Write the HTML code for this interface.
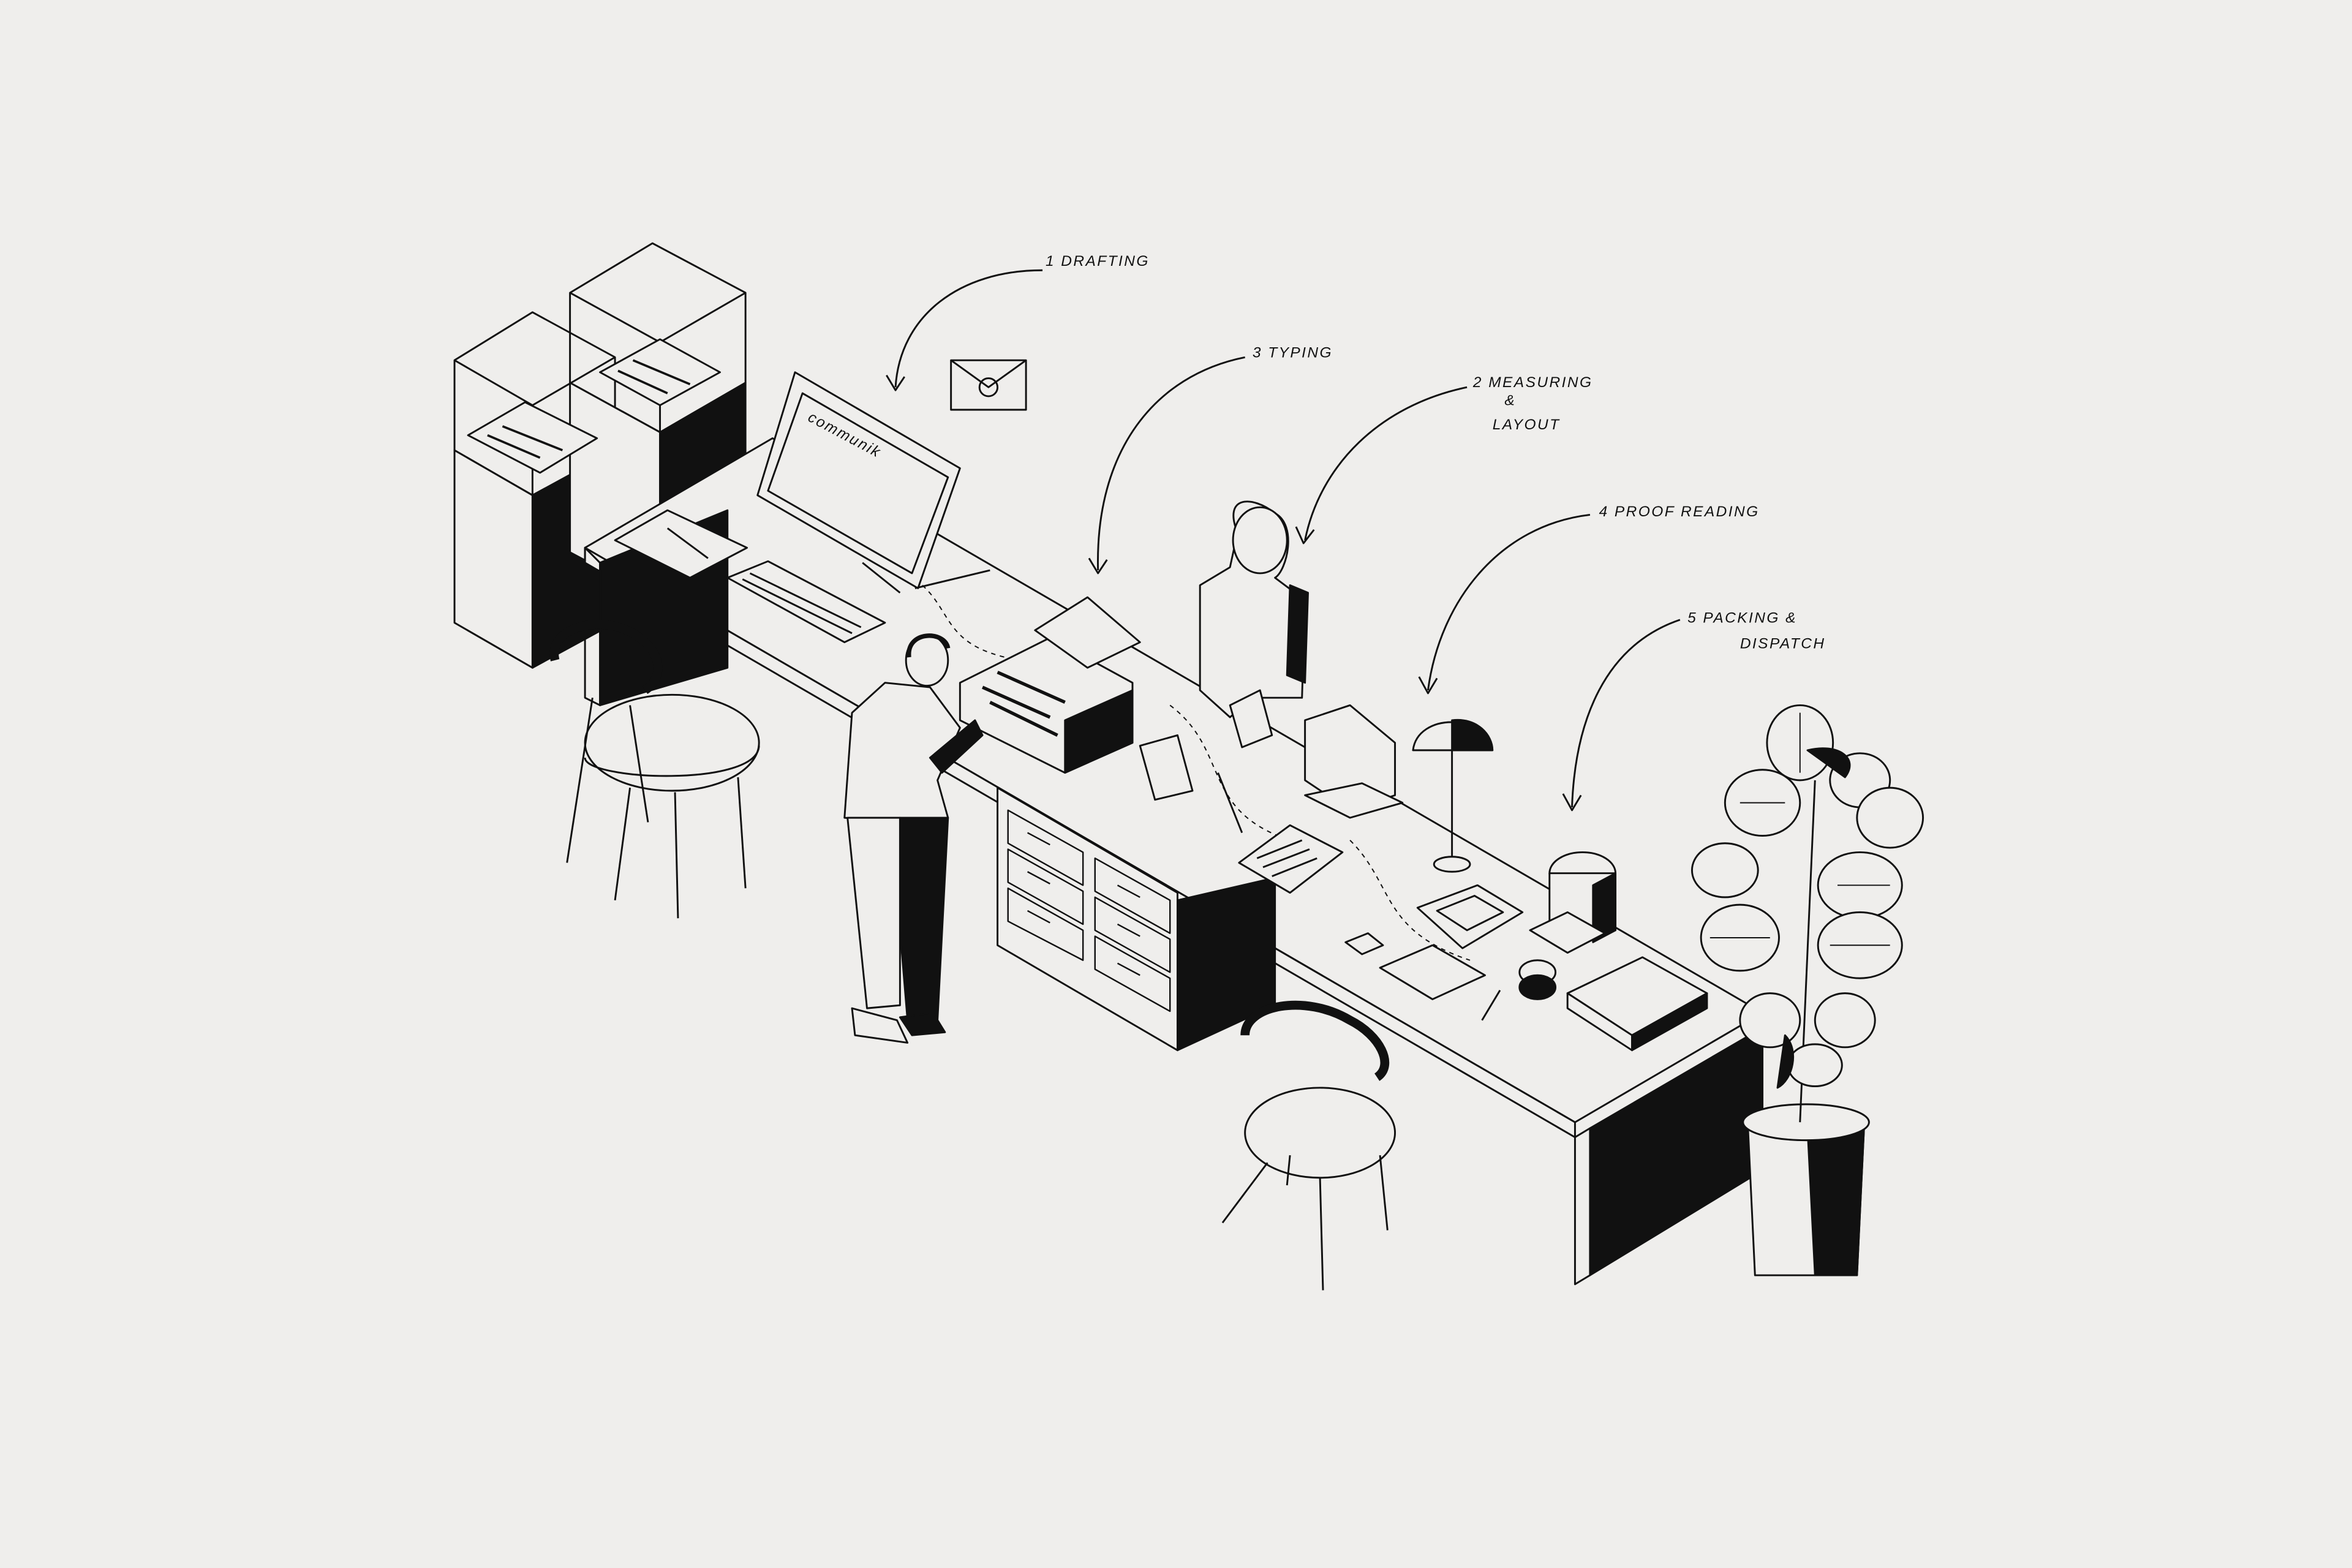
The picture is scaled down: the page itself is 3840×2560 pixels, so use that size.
<!DOCTYPE html>
<html><head><meta charset="utf-8"><style>
html,body{margin:0;padding:0;background:#efeeec;}
svg{display:block;}
text{font-family:"Liberation Sans",sans-serif;font-style:italic;font-size:10px;fill:#111;letter-spacing:1px;}
</style></head><body>
<svg width="3840" height="2560" viewBox="0 0 1568 1045" xmlns="http://www.w3.org/2000/svg">
<rect width="1568" height="1045" fill="#efeeec"/>
<g fill="none" stroke="#111" stroke-width="1.2" stroke-linejoin="round">
<!-- pedestal 1 -->
<polygon points="303,240 355,208 410,238 410,300 355,330 303,300"/>
<line x1="355" y1="270" x2="355" y2="330"/><line x1="303" y1="240" x2="355" y2="270"/><line x1="355" y1="270" x2="410" y2="238"/>
<polygon points="303,300 355,330 355,445 303,415" fill="#efeeec"/>
<polygon points="355,330 410,300 410,415 355,445" fill="#111"/>
<!-- pedestal 2 -->
<polygon points="380,195 435,162 497,195 497,255 440,288 380,255"/>
<line x1="380" y1="195" x2="440" y2="228"/><line x1="440" y1="228" x2="497" y2="195"/><line x1="440" y1="228" x2="440" y2="288"/>
<polygon points="380,255 440,288 440,400 380,368" fill="#efeeec"/>
<polygon points="440,288 497,255 497,345 440,378" fill="#111"/>
<!-- mini typewriters -->
<polygon points="312,290 350,268 398,292 360,315" fill="#efeeec"/>
<polygon points="400,248 440,226 480,248 440,270" fill="#efeeec"/>
<g stroke-width="1.5"><line x1="325" y1="290" x2="360" y2="305"/><line x1="335" y1="284" x2="375" y2="300"/><line x1="412" y1="247" x2="445" y2="262"/><line x1="422" y1="240" x2="460" y2="256"/></g>
<!-- desk -->
<polygon points="390,365 515,292 1175,675 1050,748" fill="#efeeec"/>
<polygon points="390,365 1050,748 1050,758 390,375" fill="#efeeec"/>
<polygon points="390,365 390,465 400,470 400,375"/>
<polygon points="400,375 485,340 485,445 400,470" fill="#111"/>
<polygon points="1050,758 1060,752 1060,850 1050,856" fill="#efeeec"/>
<polygon points="1060,752 1175,685 1175,780 1060,850" fill="#111"/>
<g stroke-dasharray="3,3" stroke-width="0.8">
<path d="M600,380 C640,400 620,430 680,440"/><path d="M780,470 C820,500 800,540 860,560"/><path d="M900,560 C930,590 920,620 980,640"/><path d="M520,320 C560,330 580,350 600,360"/>
</g>
<!-- under desk dark -->
<polygon points="785,600 850,585 850,670 785,700" fill="#111"/>
<!-- drawers -->
<polygon points="665,525 785,595 785,700 665,630" fill="#efeeec"/>
<g stroke-width="1">
<polygon points="672,540 722,568 722,590 672,562"/><polygon points="672,566 722,594 722,616 672,588"/><polygon points="672,592 722,620 722,640 672,614"/>
<polygon points="730,572 780,600 780,622 730,594"/><polygon points="730,598 780,626 780,648 730,620"/><polygon points="730,624 780,652 780,674 730,646"/>
<line x1="685" y1="555" x2="700" y2="563"/><line x1="685" y1="581" x2="700" y2="589"/><line x1="685" y1="607" x2="700" y2="615"/>
<line x1="745" y1="590" x2="760" y2="598"/><line x1="745" y1="616" x2="760" y2="624"/><line x1="745" y1="642" x2="760" y2="650"/>
</g>
<!-- monitor -->
<polygon points="530,248 640,312 612,392 505,330" fill="#efeeec"/>
<polygon points="535,262 632,318 608,382 512,327"/>
<line x1="610" y1="392" x2="660" y2="380"/><line x1="575" y1="375" x2="600" y2="395"/>
<!-- keyboard -->
<polygon points="485,385 512,374 590,415 563,428" fill="#efeeec"/>
<line x1="495" y1="386" x2="568" y2="422"/><line x1="500" y1="382" x2="574" y2="418"/>
<!-- book -->
<polygon points="410,360 445,340 498,365 460,385" fill="#efeeec"/>
<line x1="445" y1="352" x2="472" y2="372"/>
<!-- envelope -->
<rect x="634" y="240" width="50" height="33" fill="#efeeec"/>
<polyline points="634,240 659,258 684,240"/>
<circle cx="659" cy="258" r="6"/>
<!-- typewriter -->
<polygon points="640,455 700,425 755,455 755,495 710,515 640,480" fill="#efeeec"/>
<polygon points="710,515 755,495 755,460 710,480" fill="#111"/>
<polygon points="690,420 725,398 760,428 725,445" fill="#efeeec"/>
<g stroke-width="2.2"><line x1="655" y1="458" x2="700" y2="478"/><line x1="660" y1="468" x2="705" y2="490"/><line x1="665" y1="448" x2="710" y2="468"/></g>
<!-- lady -->
<path d="M825,355 C815,330 835,330 850,342 C865,350 858,380 850,385 L870,400 L868,465 L835,465 L820,478 L800,460 L800,390 L820,378 Z" fill="#efeeec"/>
<path d="M860,390 L872,395 L870,455 L858,450 Z" fill="#111"/>
<ellipse cx="840" cy="360" rx="18" ry="22" fill="#efeeec"/>
<polygon points="820,470 840,460 848,490 828,498" fill="#efeeec"/>
<!-- man -->
<ellipse cx="618" cy="440" rx="14" ry="17" fill="#efeeec"/>
<path d="M606,438 C604,420 630,420 632,432" stroke-width="3"/>
<path d="M590,455 L620,458 L640,485 L625,520 L632,545 L600,548 L563,545 L568,475 Z" fill="#efeeec"/>
<polygon points="600,545 632,545 625,680 605,680 600,620" fill="#111"/>
<polygon points="565,545 600,545 600,670 578,672" fill="#efeeec"/>
<path d="M568,672 L598,680 L605,695 L570,690 Z" fill="#efeeec"/>
<path d="M600,678 L622,675 L630,688 L608,690 Z" fill="#111"/>
<polygon points="620,505 650,480 655,490 628,515" fill="#111"/>
<!-- papers on desk -->
<polygon points="760,497 785,490 795,527 770,533" fill="#efeeec"/>
<polygon points="826,575 860,550 895,568 860,595" fill="#efeeec"/>
<line x1="838" y1="572" x2="868" y2="560"/><line x1="842" y1="578" x2="873" y2="566"/><line x1="848" y1="584" x2="878" y2="572"/>
<line x1="812" y1="515" x2="828" y2="555"/>
<!-- tablet -->
<polygon points="870,480 900,470 930,495 930,530 900,540 870,520" fill="#efeeec"/>
<polygon points="870,530 900,545 935,535 908,522" fill="#efeeec"/>
<!-- lamp -->
<path d="M942,500 C945,475 990,475 995,500 Z" fill="#efeeec"/>
<path d="M968,480 C985,478 995,490 995,500 L968,500 Z" fill="#111"/>
<line x1="968" y1="500" x2="968" y2="572"/>
<ellipse cx="968" cy="576" rx="12" ry="5" fill="#efeeec"/>
<!-- packing items -->
<polygon points="945,605 985,590 1015,608 975,632" fill="#efeeec"/>
<polygon points="958,607 983,597 1002,608 978,620"/>
<polygon points="920,645 955,630 990,650 955,666" fill="#efeeec"/>
<polygon points="897,628 912,622 922,630 908,636"/>
<ellipse cx="1055" cy="582" rx="22" ry="14" fill="#efeeec"/>
<polygon points="1033,582 1077,582 1077,620 1033,620" fill="#efeeec"/>
<polygon points="1062,590 1077,582 1077,620 1062,628" fill="#111"/>
<polygon points="1020,620 1045,608 1070,622 1045,635" fill="#efeeec"/>
<ellipse cx="1025" cy="648" rx="12" ry="8" fill="#efeeec"/><ellipse cx="1025" cy="658" rx="12" ry="8" fill="#111"/>
<polygon points="1045,662 1095,638 1138,662 1088,690" fill="#efeeec"/>
<polygon points="1045,662 1088,690 1088,700 1045,672" fill="#efeeec"/>
<polygon points="1088,690 1138,662 1138,672 1088,700" fill="#111"/>
<line x1="988" y1="680" x2="1000" y2="660"/>
<!-- round table + chair left -->
<ellipse cx="448" cy="495" rx="58" ry="32" fill="#efeeec"/>
<path d="M390,505 C390,520 505,525 506,497" fill="none"/>
<line x1="420" y1="525" x2="410" y2="600"/><line x1="450" y1="528" x2="452" y2="612"/><line x1="492" y1="518" x2="497" y2="592"/>
<path d="M370,440 C365,420 395,410 418,420 C440,430 445,450 430,460" stroke-width="6"/>
<line x1="395" y1="465" x2="378" y2="575"/><line x1="420" y1="470" x2="432" y2="548"/>
<!-- chair bottom -->
<ellipse cx="880" cy="755" rx="50" ry="30" fill="#efeeec"/>
<path d="M830,690 C830,670 870,662 900,680 C920,690 930,710 918,718" stroke-width="6"/>
<line x1="845" y1="775" x2="815" y2="815"/><line x1="880" y1="785" x2="882" y2="860"/><line x1="920" y1="770" x2="925" y2="820"/><line x1="860" y1="770" x2="858" y2="790"/>
<!-- plant -->
<path d="M1165,745 L1243,745 L1238,850 L1170,850 Z" fill="#efeeec"/>
<path d="M1205,752 L1243,745 L1238,850 L1210,850 Z" fill="#111"/>
<ellipse cx="1204" cy="748" rx="42" ry="12" fill="#efeeec"/>
<line x1="1200" y1="748" x2="1210" y2="520"/>
<g fill="#efeeec">
<ellipse cx="1200" cy="495" rx="22" ry="25"/><ellipse cx="1240" cy="520" rx="20" ry="18"/>
<ellipse cx="1175" cy="535" rx="25" ry="22"/><ellipse cx="1260" cy="545" rx="22" ry="20"/>
<ellipse cx="1150" cy="580" rx="22" ry="18"/><ellipse cx="1240" cy="590" rx="28" ry="22"/>
<ellipse cx="1160" cy="625" rx="26" ry="22"/><ellipse cx="1240" cy="630" rx="28" ry="22"/>
<ellipse cx="1180" cy="680" rx="20" ry="18"/><ellipse cx="1230" cy="680" rx="20" ry="18"/>
<ellipse cx="1210" cy="710" rx="18" ry="14"/>
</g>
<g stroke-width="0.8"><line x1="1200" y1="475" x2="1200" y2="515"/><line x1="1160" y1="535" x2="1190" y2="535"/><line x1="1225" y1="590" x2="1260" y2="590"/><line x1="1140" y1="625" x2="1180" y2="625"/><line x1="1220" y1="630" x2="1260" y2="630"/></g>
<path d="M1205,500 C1225,495 1240,505 1230,518 Z" fill="#111"/>
<path d="M1190,690 C1200,700 1195,720 1185,725 Z" fill="#111"/>
<!-- arrows -->
<path d="M695,180 C640,180 600,210 597,258"/><polyline points="591,250 597,260 603,251"/>
<path d="M830,238 C770,250 730,300 732,380"/><polyline points="726,372 732,382 738,373"/>
<path d="M978,258 C920,270 880,310 870,360"/><polyline points="864,351 869,362 876,353"/>
<path d="M1060,343 C1000,350 960,400 952,460"/><polyline points="946,451 952,462 958,452"/>
<path d="M1120,413 C1070,430 1050,480 1048,538"/><polyline points="1042,529 1048,540 1054,530"/>
</g>
<text x="697" y="177">1 DRAFTING</text>
<text x="835" y="238">3 TYPING</text>
<text x="982" y="258">2 MEASURING</text>
<text x="1003" y="270">&amp;</text>
<text x="995" y="286">LAYOUT</text>
<text x="1066" y="344">4 PROOF READING</text>
<text x="1125" y="415">5  PACKING &amp;</text>
<text x="1160" y="432">DISPATCH</text>
<text x="538" y="280" font-size="8" transform="rotate(28 538 280)">communik</text>
</svg>
</body></html>
